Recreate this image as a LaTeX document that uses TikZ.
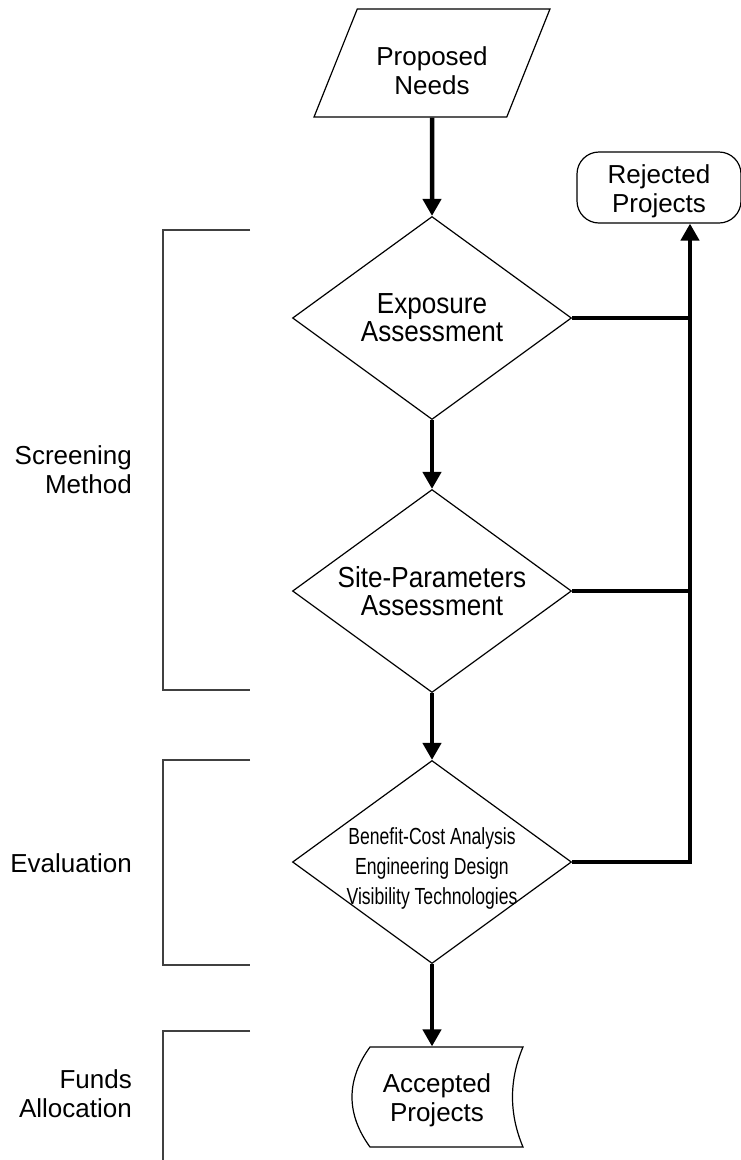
\documentclass[tikz,border=0pt]{standalone}
\usepackage{fontspec}
\setmainfont{Liberation Sans}
\newfontfamily\tallfont[FakeStretch=0.9]{Liberation Sans}
\newfontfamily\narrowfont[FakeStretch=0.755]{Liberation Sans}
\usetikzlibrary{arrows.meta,shapes.geometric}
\begin{document}
\begin{tikzpicture}[x=1pt,y=-1pt,
	box/.style={draw,line width=1.2pt,align=center,inner sep=0pt,font=\fontsize{26}{29}\selectfont},
	test/.style={box,diamond,aspect=1.374,minimum width=279pt,minimum height=203pt,font=\tallfont\fontsize{29}{28}\selectfont},
	flow/.style={line width=4.5pt,-{Triangle[width=18pt,length=17pt]}},
	tee/.style={line width=4.5pt},
	brace/.style={line width=1.5pt,black!75},
	side/.style={anchor=east,align=right,inner sep=0pt,font=\fontsize{26}{29}\selectfont}]
	\useasboundingbox (0,0) rectangle (741,1160);
	\node[box,trapezium,trapezium left angle=63.4,trapezium right angle=116.6,trapezium stretches=true,minimum width=236pt,minimum height=108pt,text height=64pt] (need) at (432,63) {Proposed\\Needs};
	\node[test] (expo) at (432,318) {Exposure\\Assessment};
	\node[test] (site) at (432,591) {Site-Parameters\\Assessment};
	\node[test,font=\narrowfont\fontsize{23.3}{30}\selectfont,text height=89pt,inner xsep=-20pt] (eval) at (432,862) {Benefit-Cost Analysis\\Engineering Design\\Visibility Technologies};
	\node[box,draw=none,minimum width=153pt,minimum height=100pt,text height=54pt] (acc) at (437,1097) {Accepted\\Projects};
	\draw[line width=1.2pt] (370,1047) -- (523,1047) .. controls (509,1080) and (509,1114) .. (523,1147) -- (370,1147) .. controls (346,1114) and (346,1080) .. (370,1047) -- cycle;
	\node[box,rounded corners=22pt,minimum width=164pt,minimum height=71pt,text height=56pt] (rej) at (659,187.5) {Rejected\\Projects};
	\coordinate (bus) at (690,862);
	\draw[flow] (need.south) -- (expo.north);
	\draw[flow] (expo.south) -- (site.north);
	\draw[flow] (site.south) -- (eval.north);
	\draw[flow] (eval.south) -- (eval.south |- acc.north);
	\draw[tee] (expo.east) -- (expo.east -| bus);
	\draw[tee] (site.east) -- (site.east -| bus);
	\draw[flow] (eval.east) -- (bus) -- (bus |- rej.south);
	\draw[brace] (250,230) -- (163,230) -- (163,690) -- (250,690);
	\draw[brace] (250,760) -- (163,760) -- (163,965) -- (250,965);
	\draw[brace] (250,1031) -- (163,1031) -- (163,1165);
	\node[side] (scr) at (132,470) {Screening\\Method};
	\node[side] (evl) at (132,863) {Evaluation};
	\node[side] (fund) at (132,1094) {Funds\\Allocation};
\end{tikzpicture}
\end{document}
